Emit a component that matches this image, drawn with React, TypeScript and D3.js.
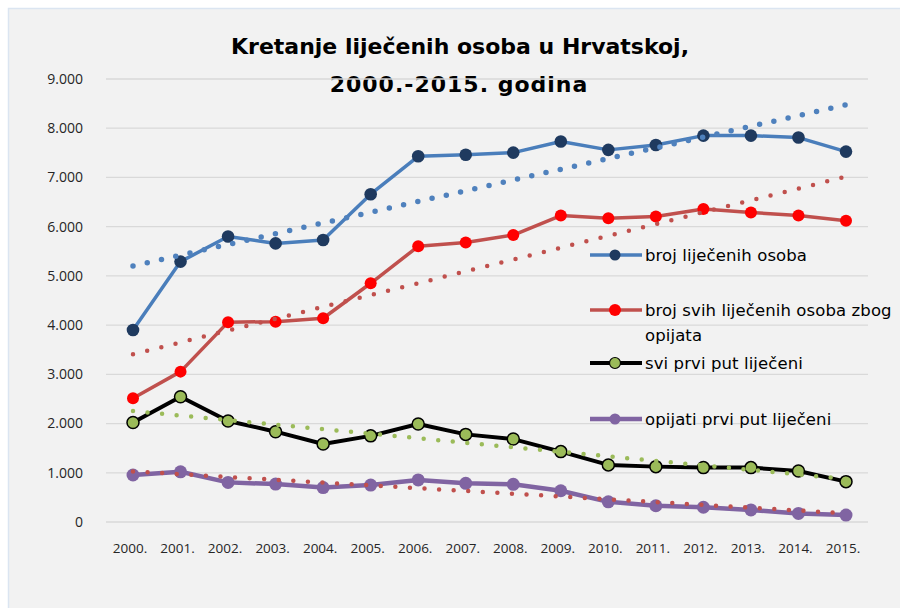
import React from "react";
import * as d3 from "d3";

const years = ["2000.", "2001.", "2002.", "2003.", "2004.", "2005.", "2006.", "2007.", "2008.", "2009.", "2010.", "2011.", "2012.", "2013.", "2014.", "2015."];
const brojLijecenih = [3900, 5290, 5800, 5660, 5730, 6660, 7430, 7460, 7505, 7730, 7560, 7660, 7850, 7850, 7810, 7525];
const opijatiSvi = [2514, 3055, 4060, 4070, 4140, 4850, 5600, 5680, 5830, 6225, 6170, 6205, 6360, 6290, 6225, 6120];
const sviPrviPut = [2020, 2545, 2053, 1835, 1585, 1750, 1990, 1780, 1685, 1430, 1160, 1125, 1105, 1105, 1035, 820];
const opijatiPrviPut = [955, 1020, 805, 770, 700, 750, 855, 785, 765, 635, 410, 330, 300, 245, 175, 140];
const yTicks = [0, 1000, 2000, 3000, 4000, 5000, 6000, 7000, 8000, 9000];
const yTickLabels = ["0", "1.000", "2.000", "3.000", "4.000", "5.000", "6.000", "7.000", "8.000", "9.000"];
const seriesNames = ["broj liječenih osoba", "broj svih liječenih osoba zbog opijata", "svi prvi put liječeni", "opijati prvi put liječeni"];

const W = 900, H = 608;

function regression(vals: number[]) {
  const n = vals.length;
  const xs = vals.map((_, i) => i);
  const mx = d3.mean(xs)!;
  const my = d3.mean(vals)!;
  let num = 0, den = 0;
  xs.forEach((x, i) => { num += (x - mx) * (vals[i] - my); den += (x - mx) * (x - mx); });
  const b = num / den;
  const a = my - b * mx;
  return [a, a + b * (n - 1)];
}

export default function App() {
  const x = d3.scalePoint<string>().domain(years).range([133, 846]);
  const y = d3.scaleLinear().domain([0, 9000]).range([522, 79]);
  const line = d3.line<number>().x((_, i) => x(years[i])!).y((d) => y(d));

  const series = [
    { name: seriesNames[0], data: brojLijecenih, stroke: "#4a7ebb", width: 3.5, fill: "#1f3a5f", mstroke: "#1f3a5f", r: 6.3, sw: 0, trend: "#4f81bd", tw: 5.5 },
    { name: seriesNames[1], data: opijatiSvi, stroke: "#c0504d", width: 3.5, fill: "#ff0000", mstroke: "#ff0000", r: 6, sw: 0, trend: "#c0504d", tw: 4.5 },
    { name: seriesNames[2], data: sviPrviPut, stroke: "#000000", width: 4, fill: "#9bbb59", mstroke: "#000000", r: 6, sw: 1.5, trend: "#9bbb59", tw: 4.5 },
    { name: seriesNames[3], data: opijatiPrviPut, stroke: "#8064a2", width: 4.5, fill: "#8064a2", mstroke: "#8064a2", r: 6.5, sw: 0, trend: "#c0504d", tw: 4.5 },
  ];

  const legendY = [255, 310, 363, 419];
  const legendFont = "'DejaVu Sans', sans-serif";
  const lf = 16.5;
  const ls = 0.1;

  return (
    <svg width={W} height={H} style={{ position: "absolute", left: 0, top: 0 }}>
      <rect x={0} y={0} width={W} height={H} fill="#ffffff" />
      <rect x={8.5} y={8.5} width={W} height={H} fill="#f2f2f2" stroke="#dbe5f1" strokeWidth={1.5} />
      <text x={460} y={54} textAnchor="middle" fontFamily={legendFont} fontWeight="bold" fontSize={22} fill="#000">Kretanje liječenih osoba u Hrvatskoj,</text>
      <text x={459} y={92} textAnchor="middle" fontFamily={legendFont} fontWeight="bold" fontSize={22} letterSpacing={1} fill="#000">2000.-2015. godina</text>
      {yTicks.map((t, i) => (
        <g key={t}>
          <line x1={106} x2={868} y1={y(t)} y2={y(t)} stroke="#d9d9d9" strokeWidth={1.3} />
          <text x={83} y={y(t)} dy="0.35em" textAnchor="end" fontFamily="'Open Sans', sans-serif" fontSize={14} fill="#262626">{yTickLabels[i]}</text>
        </g>
      ))}
      {years.map((yr) => (
        <text key={yr} x={x(yr)! - 3} y={553} textAnchor="middle" fontFamily="'Open Sans', sans-serif" fontSize={13.5} fill="#262626">{yr}</text>
      ))}
      {series.map((s) => (
        <g key={s.name}>
          <path d={line(s.data)!} fill="none" stroke={s.stroke} strokeWidth={s.width} strokeLinejoin="round" />
          {s.data.map((v, i) => (
            <circle key={i} cx={x(years[i])!} cy={y(v)} r={s.r} fill={s.fill} stroke={s.mstroke} strokeWidth={s.sw} />
          ))}
        </g>
      ))}
      {series.map((s) => {
        const [a, b] = regression(s.data);
        return (
          <line key={"t" + s.name} x1={x(years[0])!} x2={x(years[years.length - 1])!} y1={y(a)} y2={y(b)} stroke={s.trend} strokeWidth={s.tw} strokeLinecap="round" strokeDasharray="0 14.6" />
        );
      })}
      {series.map((s, i) => (
        <g key={"l" + s.name}>
          <line x1={590} x2={642} y1={legendY[i]} y2={legendY[i]} stroke={s.stroke} strokeWidth={s.width} />
          <circle cx={615} cy={legendY[i]} r={i === 1 ? 6 : 5.5} fill={s.fill} stroke={s.mstroke} strokeWidth={s.sw ? 1.2 : 0} />
        </g>
      ))}
      <text x={645} y={legendY[0]} dy="0.35em" fontFamily={legendFont} fontSize={lf} letterSpacing={ls} fill="#000">broj liječenih osoba</text>
      <text x={645} y={legendY[1]} dy="0.35em" fontFamily={legendFont} fontSize={lf} letterSpacing={ls} fill="#000">broj svih liječenih osoba zbog</text>
      <text x={645} y={legendY[1] + 25} dy="0.35em" fontFamily={legendFont} fontSize={lf} letterSpacing={ls} fill="#000">opijata</text>
      <text x={645} y={legendY[2]} dy="0.35em" fontFamily={legendFont} fontSize={lf} letterSpacing={ls} fill="#000">svi prvi put liječeni</text>
      <text x={645} y={legendY[3]} dy="0.35em" fontFamily={legendFont} fontSize={lf} letterSpacing={ls} fill="#000">opijati prvi put liječeni</text>
    </svg>
  );
}
